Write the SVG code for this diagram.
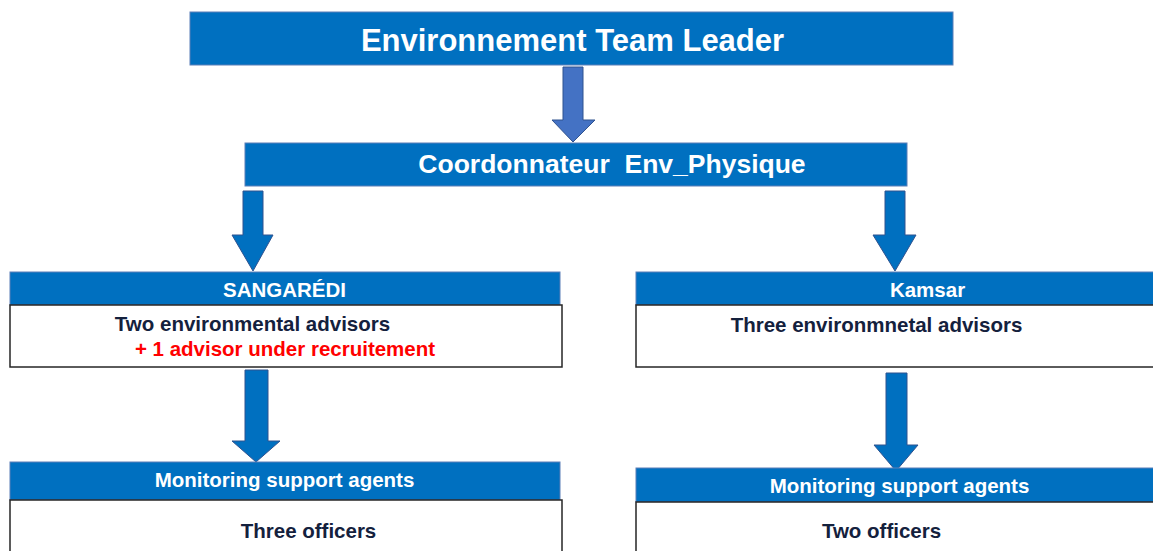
<svg xmlns="http://www.w3.org/2000/svg" width="1153" height="551" viewBox="0 0 1153 551">
<style>
.hdr{fill:#0070C0;stroke:#5B7FB8;stroke-width:1}
.body{fill:#FFFFFF;stroke:#262626;stroke-width:1.5}
.arr{fill:#0070C0;stroke:#2F528F;stroke-width:1}
.arrTop{fill:#4472C4;stroke:#2F528F;stroke-width:1}
text{font-family:"Liberation Sans",Arial,sans-serif;font-weight:bold;text-anchor:middle}
.w{fill:#FFFFFF}
.d{fill:#14213D;font-size:20.5px}
.r{fill:#FF0000;font-size:20.5px}
</style>
<rect width="1153" height="551" fill="#FFFFFF"/>
<g id="connectors">
<polygon class="arrTop" points="563,67 583,67 583,120 595,120 573,142 552,120 563,120"/>
<polygon class="arr" points="243,191 263,191 263,235 273,235 253,271 232,235 243,235"/>
<polygon class="arr" points="885,191 905,191 905,235 916,235 895,271 873,235 885,235"/>
<polygon class="arr" points="245,370 268,370 268,441 280,441 256,462 232,441 245,441"/>
<polygon class="arr" points="886,373 907,373 907,445 918,445 896,471 874,445 886,445"/>
</g>
<g id="team-leader">
<rect class="hdr" x="190" y="12" width="763" height="53"/>
<text class="w" x="572.5" y="51" font-size="31">Environnement Team Leader</text>
</g>
<g id="coordonnateur">
<rect class="hdr" x="245" y="143" width="662" height="43"/>
<text class="w" x="612" y="173" font-size="26.5" xml:space="preserve">Coordonnateur  Env_Physique</text>
</g>
<g id="sangaredi">
<rect class="hdr" x="10" y="272" width="550" height="33"/>
<text class="w" x="284.5" y="297" font-size="20.5">SANGARÉDI</text>
<rect class="body" x="10" y="305" width="552" height="62"/>
<text class="d" x="252.5" y="331">Two environmental advisors</text>
<text class="r" x="285" y="356">+ 1 advisor under recruitement</text>
</g>
<g id="kamsar">
<rect class="hdr" x="636" y="272" width="520" height="33"/>
<text class="w" x="927.5" y="297" font-size="20.5">Kamsar</text>
<rect class="body" x="636" y="305" width="525" height="62"/>
<text class="d" x="876.5" y="332">Three environmnetal advisors</text>
</g>
<g id="monitoring-left">
<rect class="hdr" x="10" y="462" width="550" height="38"/>
<text class="w" x="284.5" y="487" font-size="20.5">Monitoring support agents</text>
<rect class="body" x="10" y="500" width="552" height="60"/>
<text class="d" x="308.5" y="538">Three officers</text>
</g>
<g id="monitoring-right">
<rect class="hdr" x="636" y="468" width="520" height="34"/>
<text class="w" x="899.5" y="493" font-size="20.5">Monitoring support agents</text>
<rect class="body" x="636" y="502" width="525" height="60"/>
<text class="d" x="881.5" y="538">Two officers</text>
</g>
</svg>
